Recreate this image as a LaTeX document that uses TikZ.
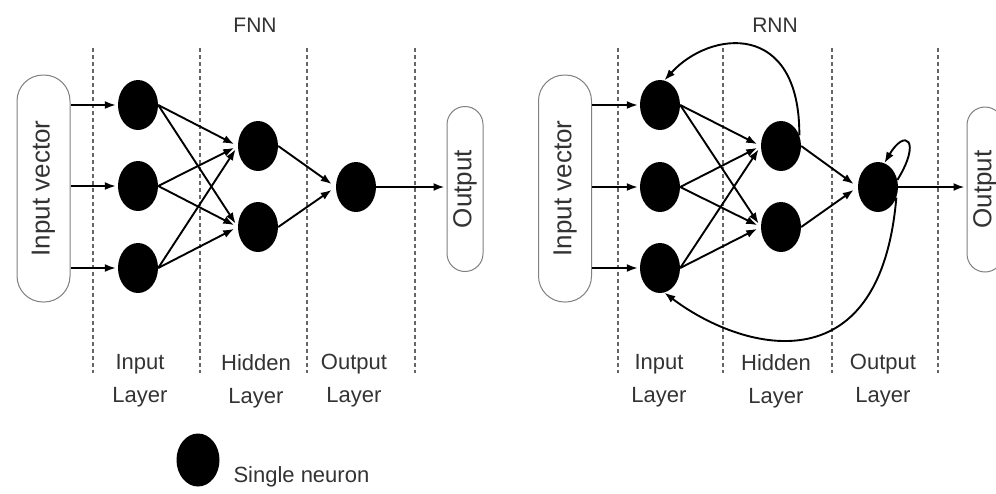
\documentclass[tikz,border=0pt]{standalone}
\usepackage{fontspec}
\setmainfont{Liberation Sans}
\usepackage{graphicx}
\usetikzlibrary{shapes.geometric,arrows.meta}
\definecolor{txt}{HTML}{333333}
\definecolor{dashc}{HTML}{666666}
\definecolor{boxc}{HTML}{808080}
\begin{document}
\begin{tikzpicture}[x=1pt,y=-1pt,
  neuron/.style={ellipse,fill=black,minimum width=40pt,minimum height=50pt,inner sep=0pt},
  arr/.style={-{Latex[length=11pt,width=8pt]},line width=1.9pt,black},
  layersep/.style={dashc,line width=1.4pt,dash pattern=on 4pt off 3pt},
  inbox/.style={draw=boxc,line width=1pt,rectangle,minimum width=53pt,minimum height=227pt,rounded corners=26pt,inner sep=0pt,text=txt,font=\fontsize{26}{30}\selectfont},
  outbox/.style={draw=boxc,line width=1pt,rectangle,minimum width=36pt,minimum height=165pt,rounded corners=18pt,inner sep=0pt,text=txt,font=\fontsize{26}{30}\selectfont},
  lbl/.style={text=txt,font=\fontsize{22}{33}\selectfont,align=center},
  layerlbl/.style={lbl,anchor=north,inner sep=0pt},
  ttl/.style={text=txt,font=\fontsize{21}{25}\selectfont}]
\useasboundingbox[fill=white] (0,0) rectangle (996,493);

% ---------------- FNN ----------------
\node[ttl] (tf) at (255,25) {FNN};
\foreach \x in {93,200,307,415} \draw[layersep] (\x,48) -- (\x,373);
\node[inbox] (fin) at (43.5,188.5) {\rotatebox{90}{Input vector}};
\node[outbox] (fout) at (465,189) {\rotatebox{90}{Output}};
\node[neuron] (fi1) at (138,105) {};
\node[neuron] (fi2) at (138,186) {};
\node[neuron] (fi3) at (138,268) {};
\node[neuron] (fh1) at (258,146) {};
\node[neuron] (fh2) at (258,227) {};
\node[neuron] (fo) at (356,187) {};
\foreach \n in {fi1,fi2,fi3} \draw[arr,shorten >=2pt] (fin.east |- \n) -- (\n.west);
\foreach \a in {fi1,fi2,fi3} \foreach \b in {fh1,fh2} \draw[arr,shorten >=4pt] (\a.east) -- (\b.west);
\foreach \a in {fh1,fh2} \draw[arr,shorten >=5pt] (\a.east) -- (fo.west);
\draw[arr,shorten >=2pt] (fo.east) -- (fo.east -| fout.west);
\node[layerlbl] (fl1) at (140,354) {Input\\Layer};
\node[layerlbl] (fl2) at (256,354) {Hidden\\Layer};
\node[layerlbl] (fl3) at (354,354) {Output\\Layer};

% legend
\node[neuron,minimum width=43pt,minimum height=53pt] (leg) at (198,460) {};
\node[lbl,anchor=west] (legt) at (230,477) {Single neuron};

% ---------------- RNN ----------------
\node[ttl] (tr) at (775,25) {RNN};
\foreach \x in {618,723,832,938} \draw[layersep] (\x,48) -- (\x,373);
\node[inbox] (rin) at (565,188.5) {\rotatebox{90}{Input vector}};
\node[outbox] (rout) at (985,189.5) {\rotatebox{90}{Output}};
\node[neuron] (ri1) at (660,105) {};
\node[neuron] (ri2) at (660,187) {};
\node[neuron] (ri3) at (660,268) {};
\node[neuron] (rh1) at (781,146) {};
\node[neuron] (rh2) at (781,227) {};
\node[neuron] (ro) at (878,187) {};
\foreach \n in {ri1,ri2,ri3} \draw[arr,shorten >=2pt] (rin.east |- \n) -- (\n.west);
\foreach \a in {ri1,ri2,ri3} \foreach \b in {rh1,rh2} \draw[arr,shorten >=4pt] (\a.east) -- (\b.west);
\foreach \a in {rh1,rh2} \draw[arr,shorten >=5pt] (\a.east) -- (ro.west);
\draw[arr,shorten >=2pt] (ro.east) -- (ro.east -| rout.west);
\draw[arr] (rh1.30) .. controls (800,20) and (710,30) .. (ri1.80);
\draw[arr] (ro.20) .. controls (922,140) and (905,128) .. (ro.75);
\draw[arr] (ro.-30) .. controls (880,390) and (740,350) .. (ri3.-80);
\node[layerlbl] (rl1) at (659,354) {Input\\Layer};
\node[layerlbl] (rl2) at (776,354) {Hidden\\Layer};
\node[layerlbl] (rl3) at (883,354) {Output\\Layer};
\end{tikzpicture}
\end{document}
